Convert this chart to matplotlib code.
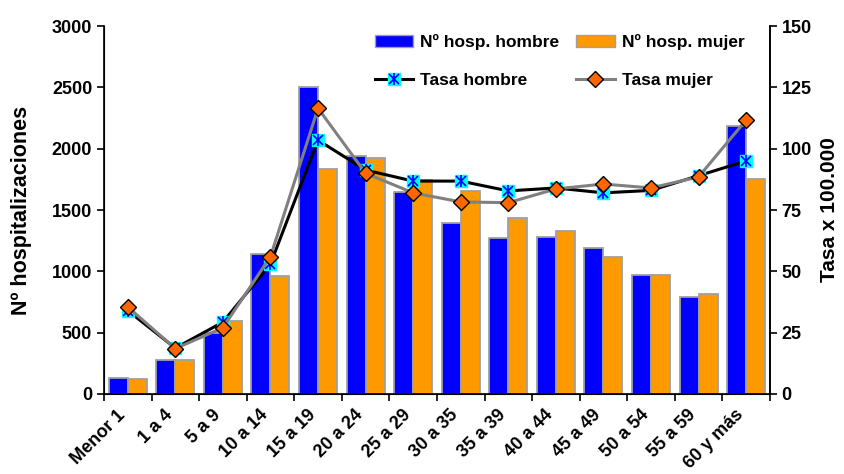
import numpy as np
import matplotlib
matplotlib.use("Agg")
import matplotlib.pyplot as plt
import matplotlib.transforms as mtransforms
from matplotlib.lines import Line2D
from matplotlib.patches import Patch
from matplotlib.legend_handler import HandlerTuple

plt.rcParams["font.family"] = ["Liberation Sans", "DejaVu Sans"]
plt.rcParams["font.weight"] = "bold"

grupos = ["Menor 1", "1 a 4", "5 a 9", "10 a 14", "15 a 19", "20 a 24", "25 a 29",
          "30 a 35", "35 a 39", "40 a 44", "45 a 49", "50 a 54", "55 a 59", "60 y más"]
hosp_hombre = [130, 280, 500, 1140, 2500, 1940, 1650, 1395, 1270, 1280, 1190, 970, 790, 2185]
hosp_mujer = [125, 275, 595, 960, 1835, 1925, 1745, 1655, 1435, 1330, 1115, 970, 815, 1755]
tasa_hombre = [34, 18.7, 29.3, 53, 103.5, 91.3, 86.8, 86.8, 82.8, 84, 82, 83, 89, 95]
tasa_mujer = [35.5, 18.5, 27, 56, 116.5, 90, 82, 78.3, 78, 83.6, 85.6, 84, 88.5, 111.7]

x = np.arange(len(grupos))
w = 0.4

fig = plt.figure(figsize=(8.44, 4.74), dpi=100)
ax = fig.add_axes([0.1232, 0.1688, 0.789, 0.7762])
ax.bar(x - w / 2, hosp_hombre, w, color="#0000FF", edgecolor="#A0A0A0", linewidth=1.3)
ax.bar(x + w / 2, hosp_mujer, w, color="#FF9900", edgecolor="#A0A0A0", linewidth=1.3)
ax.set_xlim(-0.5, len(grupos) - 0.5)
ax.set_ylim(0, 3000)
ax.set_yticks(range(0, 3001, 500))
ax.set_xticks(np.arange(-0.5, len(grupos), 1))
ax.set_xticklabels([])
ax.set_xticks(x, minor=True)
ax.set_xticklabels(grupos, minor=True, rotation=45, ha="right", va="top",
                   rotation_mode="anchor", fontsize=13)
ax.tick_params(axis="x", which="minor", length=0, pad=9)
ax.tick_params(axis="x", which="major", length=5, width=1.2)
ax.tick_params(axis="y", length=5, width=1.2, labelsize=13)
shift = mtransforms.ScaledTranslation(-8 / 72, 0, fig.dpi_scale_trans)
for lab in ax.get_xticklabels(minor=True):
    lab.set_transform(lab.get_transform() + shift)
ax.set_ylabel("Nº hospitalizaciones", fontsize=15.5, fontweight="bold", labelpad=14)
ax.spines["top"].set_visible(False)
for s in ["left", "bottom", "right"]:
    ax.spines[s].set_linewidth(1.2)

ax2 = ax.twinx()
ax2.set_ylim(0, 150)
ax2.set_yticks(range(0, 151, 25))
ax2.tick_params(axis="y", length=5, width=1.2, labelsize=13)
ax2.spines["top"].set_visible(False)
ax2.spines["right"].set_linewidth(1.2)
ax2.set_ylabel("Tasa x 100.000", fontsize=15, fontweight="bold", labelpad=6)

ax2.plot(x, tasa_hombre, color="black", linewidth=2.2, zorder=3)
ax2.plot(x, tasa_hombre, linestyle="none", marker="s", markersize=9,
         markerfacecolor="#00FFFF", markeredgecolor="#00FFFF", zorder=4)
ax2.plot(x, tasa_hombre, linestyle="none", marker="x", markersize=7,
         markeredgecolor="#0000FF", markeredgewidth=1.2, zorder=5)
ax2.plot(x, tasa_hombre, linestyle="none", marker="|", markersize=8,
         markeredgecolor="#0000FF", markeredgewidth=1.2, zorder=5)
ax2.plot(x, tasa_mujer, color="#808080", linewidth=2.2, marker="D", markersize=8.5,
         markerfacecolor="#FF6600", markeredgecolor="black", markeredgewidth=1, zorder=6)

h_bar1 = Patch(facecolor="#0000FF", edgecolor="#A0A0A0")
h_bar2 = Patch(facecolor="#FF9900", edgecolor="#A0A0A0")
h_l1 = (Line2D([], [], color="black", linewidth=2.2),
        Line2D([], [], linestyle="none", marker="s", markersize=9,
               markerfacecolor="#00FFFF", markeredgecolor="#00FFFF"),
        Line2D([], [], linestyle="none", marker="x", markersize=7,
               markeredgecolor="#0000FF", markeredgewidth=1.2),
        Line2D([], [], linestyle="none", marker="|", markersize=8,
               markeredgecolor="#0000FF", markeredgewidth=1.2))
h_l2 = Line2D([], [], color="#808080", linewidth=2.2, marker="D", markersize=8.5,
              markerfacecolor="#FF6600", markeredgecolor="black")
ax2.legend([h_bar1, h_l1, h_bar2, h_l2],
           ["Nº hosp. hombre", "Tasa hombre", "Nº hosp. mujer", "Tasa mujer"],
           ncol=2, frameon=False, loc="upper right", bbox_to_anchor=(0.985, 1.02),
           fontsize=12.5, handlelength=2.2, handletextpad=0.4, columnspacing=1.0,
           labelspacing=1.3, handler_map={tuple: HandlerTuple(ndivide=1)})

plt.savefig("out.png", dpi=100)
